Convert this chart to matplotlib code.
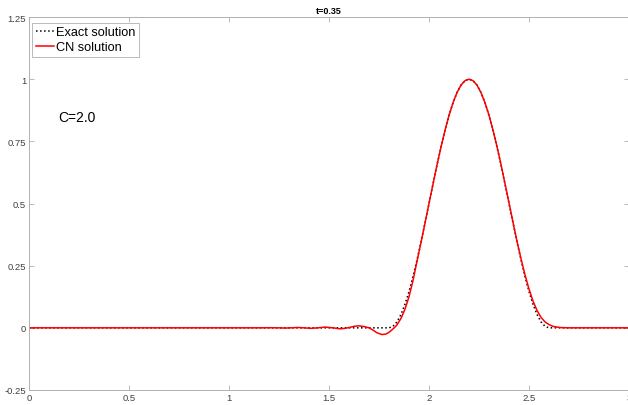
import numpy as np
import matplotlib
matplotlib.use('Agg')
import matplotlib.pyplot as plt

plt.rcParams['font.family'] = ['Liberation Sans', 'DejaVu Sans']

# exact solution
x_ex = [0.0, 1.8, 1.82, 1.84, 1.86, 1.88, 1.9, 1.92, 1.94, 1.96, 1.98,
        2.0, 2.02, 2.04, 2.06, 2.08, 2.1, 2.12, 2.14, 2.16, 2.18,
        2.2, 2.22, 2.24, 2.26, 2.28, 2.3, 2.32, 2.34, 2.36, 2.38,
        2.4, 2.42, 2.44, 2.46, 2.48, 2.5, 2.52, 2.54, 2.56, 2.58, 2.6, 3.0]
u_ex = [0.0, 0.0, 0.006, 0.024, 0.054, 0.095, 0.146, 0.206, 0.273, 0.345, 0.422,
        0.5, 0.578, 0.655, 0.727, 0.794, 0.854, 0.905, 0.946, 0.976, 0.994,
        1.0, 0.994, 0.976, 0.946, 0.905, 0.854, 0.794, 0.727, 0.655, 0.578,
        0.5, 0.422, 0.345, 0.273, 0.206, 0.146, 0.095, 0.054, 0.024, 0.006, 0.0, 0.0]

# CN solution
x_cn = [0.0, 1.0, 1.15, 1.2, 1.25, 1.28, 1.31, 1.345, 1.375, 1.41, 1.445,
        1.48, 1.52, 1.555, 1.58, 1.6, 1.625, 1.645, 1.67, 1.7, 1.72,
        1.74, 1.765, 1.785, 1.8, 1.815, 1.83, 1.84, 1.86, 1.88, 1.9,
        1.92, 1.94, 1.96, 1.98, 2.0, 2.02, 2.04, 2.06, 2.08, 2.1,
        2.12, 2.14, 2.16, 2.18, 2.2, 2.22, 2.24, 2.26, 2.28, 2.3,
        2.32, 2.34, 2.36, 2.38, 2.4, 2.42, 2.44, 2.46, 2.48, 2.5,
        2.52, 2.54, 2.56, 2.58, 2.6, 2.62, 2.64, 2.66, 2.7, 3.0]
u_cn = [0.0, 0.0, 0.0, 0.0004, 0.0, -0.001, 0.0, 0.0015, 0.0, -0.002, 0.0,
        0.003, 0.0, -0.004, -0.002, 0.001, 0.006, 0.008, 0.006, 0.0, -0.009,
        -0.02, -0.027, -0.025, -0.018, -0.008, 0.003, 0.012, 0.038, 0.075, 0.125,
        0.19, 0.268, 0.343, 0.421, 0.5, 0.578, 0.655, 0.727, 0.794, 0.854,
        0.905, 0.946, 0.976, 0.994, 1.0, 0.994, 0.976, 0.946, 0.905, 0.855,
        0.795, 0.729, 0.657, 0.58, 0.503, 0.425, 0.348, 0.278, 0.213, 0.156,
        0.108, 0.07, 0.042, 0.024, 0.013, 0.006, 0.003, 0.001, 0.0, 0.0]

xticks = [0, 0.5, 1, 1.5, 2, 2.5, 3]
xlabels = ['0', '0.5', '1', '1.5', '2', '2.5', '3']
yticks = [-0.25, 0, 0.25, 0.5, 0.75, 1, 1.25]
ylabels = ['-0.25', '0', '0.25', '0.5', '0.75', '1', '1.25']

fig = plt.figure(figsize=(6.28, 4.06), dpi=100)
ax = fig.add_axes([29/628, 15/406, 600/628, 373/406])

ax.plot(x_ex, u_ex, 'k:', lw=1.1, label='Exact solution')
ax.plot(x_cn, u_cn, color='#ff0000', lw=1.1, label='CN solution')

ax.set_xlim(0, 3)
ax.set_ylim(-0.25, 1.25)
ax.set_xticks(xticks)
ax.set_xticklabels(xlabels)
ax.set_yticks(yticks)
ax.set_yticklabels(ylabels)
ax.tick_params(direction='in', length=3.5, width=0.6, color='#b0b0b0',
               labelsize=6.8, labelcolor='#404040', pad=2, top=True, right=True)
for s in ax.spines.values():
    s.set_color('#b0b0b0')
    s.set_linewidth(0.7)

ax.set_title('t=0.35', fontsize=6.5, fontweight='bold', pad=3)
ax.text(0.145, 0.847, 'C=2.0', fontsize=10, va='center', ha='left')

leg = ax.legend(loc='upper left', bbox_to_anchor=(0.005, 0.985), borderaxespad=0,
                fontsize=9.2, fancybox=False, edgecolor='#b0b0b0', framealpha=1,
                handlelength=1.4, handletextpad=0.15, borderpad=0.3, labelspacing=0.2)
leg.get_frame().set_linewidth(0.6)

fig.savefig('out.png', dpi=100)
